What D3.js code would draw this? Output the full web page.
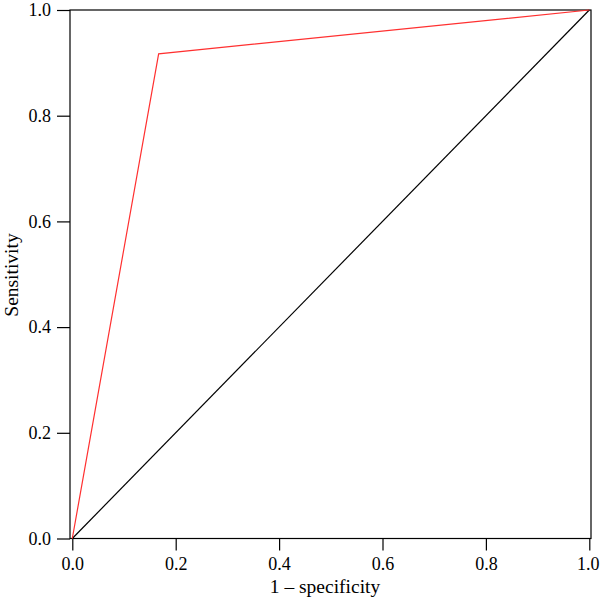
<!DOCTYPE html>
<html>
<head>
<meta charset="utf-8">
<script src="https://cdn.jsdelivr.net/npm/d3@7"></script>
<style>
  body { margin: 0; background: #fff; }
  text { font-family: "Liberation Serif", "DejaVu Serif", serif; fill: #000; }
</style>
</head>
<body>
<svg id="chart" width="600" height="603"></svg>
<script>
// roc curve points (1 - specificity, sensitivity)
var fpr = [0, 0.167, 1];
var tpr = [0, 0.917, 1];
var refX = [0, 1];
var refY = [0, 1];
var ticks = [0, 0.2, 0.4, 0.6, 0.8, 1.0];

var svg = d3.select("#chart");

var x = d3.scaleLinear().domain([0, 1]).range([72.3, 589.3]);
var y = d3.scaleLinear().domain([0, 1]).range([538.5, 10]);

// box
svg.append("rect")
    .attr("x", 70)
    .attr("y", 10)
    .attr("width", 521)
    .attr("height", 528.5)
    .attr("fill", "none")
    .attr("stroke", "#000")
    .attr("stroke-width", 1.2);

var xAxis = svg.append("g")
    .attr("transform", "translate(0,538.5)")
    .call(d3.axisBottom(x).tickValues(ticks).tickFormat(d3.format(".1f")).tickSize(12).tickPadding(7));

var yAxis = svg.append("g")
    .attr("transform", "translate(70,0)")
    .call(d3.axisLeft(y).tickValues(ticks).tickFormat(d3.format(".1f")).tickSize(13).tickPadding(6));

[xAxis, yAxis].forEach(function(g) {
    g.attr("font-size", 18).attr("font-family", "Liberation Serif");
    g.select(".domain").remove();
    g.selectAll(".tick line").attr("stroke", "#000").attr("stroke-width", 1.2);
});
// last label sits against the right edge
xAxis.selectAll(".tick text").filter(function(d) { return d === 1; }).attr("dx", -1.5);

var line = d3.line()
    .x(function(d) { return x(d[0]); })
    .y(function(d) { return y(d[1]); });

svg.append("path")
    .datum(d3.zip(refX, refY))
    .attr("d", line)
    .attr("fill", "none")
    .attr("stroke", "#000")
    .attr("stroke-width", 1.2);

svg.append("path")
    .datum(d3.zip(fpr, tpr))
    .attr("d", line)
    .attr("fill", "none")
    .attr("stroke", "#ff3030")
    .attr("stroke-width", 1.2);

svg.append("text")
    .attr("x", 325)
    .attr("y", 593)
    .attr("text-anchor", "middle")
    .attr("font-size", 19.5)
    .text("1 \u2013 specificity");

svg.append("text")
    .attr("transform", "translate(18,275) rotate(-90)")
    .attr("text-anchor", "middle")
    .attr("font-size", 19.5)
    .text("Sensitivity");
</script>
</body>
</html>
